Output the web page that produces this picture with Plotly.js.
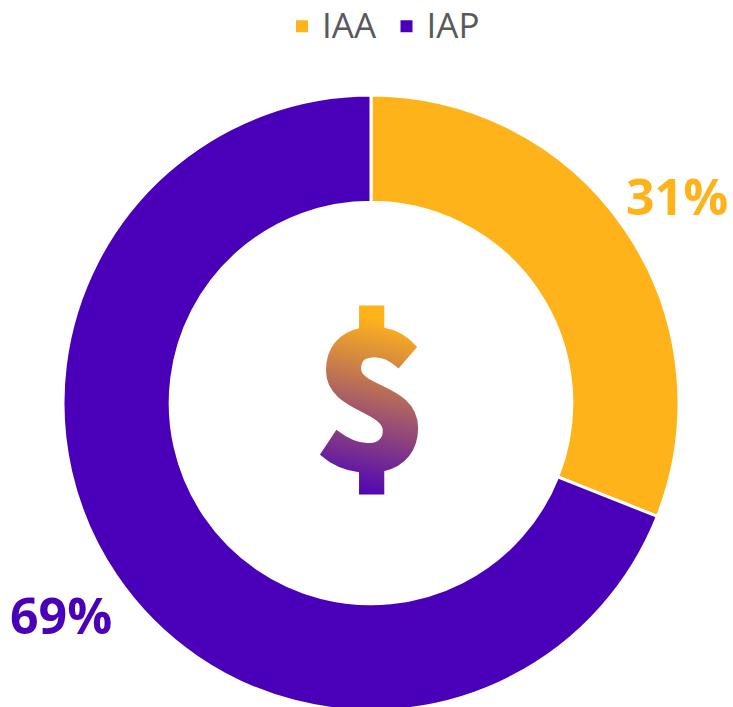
<!DOCTYPE html>
<html><head><meta charset="utf-8">
<script src="https://cdn.plot.ly/plotly-3.0.1.min.js"></script>
<style>html,body{margin:0;padding:0;background:#fff;overflow:hidden}</style>
</head><body><div id="chart" style="width:733px;height:707px;overflow:hidden"></div>
<script>
const categories = ['IAA', 'IAP'];
const shareValues = [31, 69];
const shareLabels = ['31%', '69%'];
const sliceColors = ['#FFB31A', '#4A00B8'];
const centerSymbol = '$';
const fontFam = '"Open Sans", sans-serif';
const W = 733, H = 713;
const py = p => 1 - p / H;

const trace = {
  type: 'pie', labels: categories, values: shareValues, hole: 0.652,
  sort: false, direction: 'clockwise', rotation: 0,
  marker: {colors: sliceColors, line: {color: '#fff', width: 3}},
  textinfo: 'none', hoverinfo: 'label+percent',
  domain: {x: [63/W, 679/W], y: [py(711), py(95)]}
};
const annotations = [
  {text: shareLabels[0], x: 677/W, y: py(196), xref:'paper', yref:'paper', showarrow:false, xanchor:'center', yanchor:'middle',
   font:{family:fontFam,size:50,color:sliceColors[0],weight:700}},
  {text: shareLabels[1], x: 61/W, y: py(615), xref:'paper', yref:'paper', showarrow:false, xanchor:'center', yanchor:'middle',
   font:{family:fontFam,size:50,color:sliceColors[1],weight:700}},
  {text: centerSymbol, x: 372/W, y: py(386), xref:'paper', yref:'paper', showarrow:false, xanchor:'center', yanchor:'middle',
   font:{family:'"Noto Sans CJK SC", sans-serif',size:190,color:'#7a5a80',weight:900}}
];
const layout = {
  width:W, height:H, margin:{l:0,r:0,t:0,b:0,autoexpand:false}, paper_bgcolor:'#fff',
  font:{family:fontFam},
  showlegend:true,
  legend:{orientation:'h', x:282/W, xanchor:'left', y:py(-5), yanchor:'top', entrywidth:59.5, entrywidthmode:'pixels',
    font:{family:fontFam,size:35,color:'#595959'}, traceorder:'normal'},
  annotations
};
Plotly.newPlot('chart',[trace],layout,{displayModeBar:false}).then(gd=>{
  const svg = gd.querySelector('svg.main-svg');
  const ns='http://www.w3.org/2000/svg';
  const t=[...gd.querySelectorAll('.annotation-text')].find(e=>e.textContent===centerSymbol);
  const inv=t.getCTM().inverse();
  const toLocal=(x,y)=>{const p=svg.createSVGPoint();p.x=x;p.y=y;return p.matrixTransform(inv);};
  const a=toLocal(392,322), b=toLocal(352,497);
  const g=document.createElementNS(ns,'linearGradient');
  g.id='dollarGrad'; g.setAttribute('gradientUnits','userSpaceOnUse');
  g.setAttribute('x1',a.x);g.setAttribute('y1',a.y);g.setAttribute('x2',b.x);g.setAttribute('y2',b.y);
  [['0%',sliceColors[0]],['100%',sliceColors[1]]].forEach(([o,c])=>{
    const s=document.createElementNS(ns,'stop');s.setAttribute('offset',o);s.setAttribute('stop-color',c);g.appendChild(s);
  });
  svg.querySelector('defs').appendChild(g);
  t.style.fill='url(#dollarGrad)';
  t.style.stroke='url(#dollarGrad)';
  t.style.strokeWidth='3px';
  gd.querySelectorAll('.legendpoints path').forEach(p=>p.setAttribute('d','M7.5,9.5H-7.5V-5.5H7.5Z'));
});
</script></body></html>
